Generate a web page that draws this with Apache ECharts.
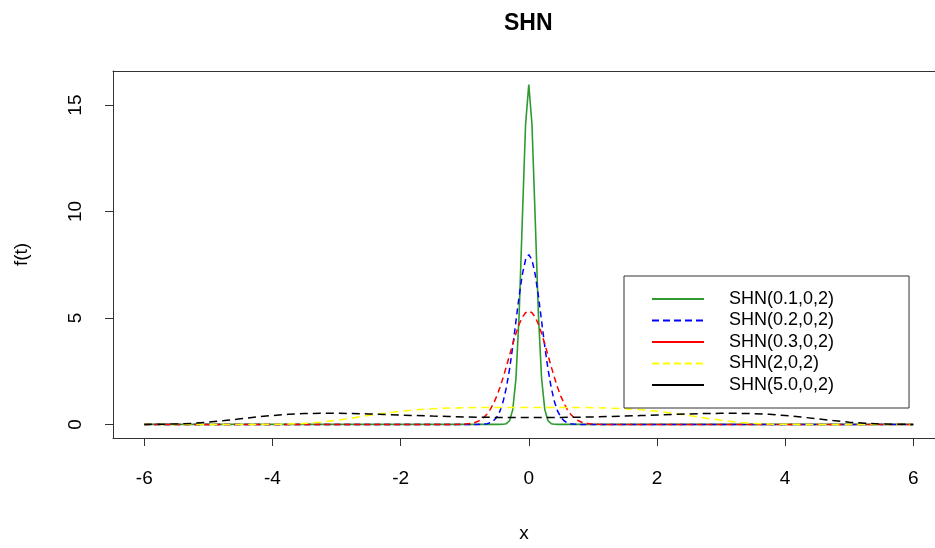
<!DOCTYPE html>
<html>
<head>
<meta charset="utf-8">
<script src="https://cdn.jsdelivr.net/npm/echarts@6/dist/echarts.min.js"></script>
<style>html,body{margin:0;padding:0;background:#fff;}#c{width:935px;height:548px;}</style>
</head>
<body>
<div id="c"></div>
<script>
// ---- data ----
var seriesNames = ['SHN(0.1,0,2)', 'SHN(0.2,0,2)', 'SHN(0.3,0,2)', 'SHN(2,0,2)', 'SHN(5.0,0,2)'];
var xTicks = [-6, -4, -2, 0, 2, 4, 6];
var yTicks = [0, 5, 10, 15];

var greenX = [-6, -0.5, -0.45, -0.4, -0.35, -0.3, -0.25, -0.2, -0.15, -0.1, -0.05, 0, 0.05, 0.1, 0.15, 0.2, 0.25, 0.3, 0.35, 0.4, 0.45, 0.5, 6];
var greenY = [0, 0, 0.0005, 0.0049, 0.0333, 0.1733, 0.695, 2.156, 5.184, 9.687, 14.087, 15.958, 14.087, 9.687, 5.184, 2.156, 0.695, 0.1733, 0.0333, 0.0049, 0.0005, 0, 0];

var blueX = [-6, -0.9, -0.85, -0.8, -0.75, -0.7, -0.65, -0.6, -0.55, -0.5, -0.45, -0.4, -0.35, -0.3, -0.25, -0.2, -0.15, -0.1, -0.05, 0,
             0.05, 0.1, 0.15, 0.2, 0.25, 0.3, 0.35, 0.4, 0.45, 0.5, 0.55, 0.6, 0.65, 0.7, 0.75, 0.8, 0.85, 0.9, 6];
var blueY = [0, 0.0002, 0.0006, 0.0018, 0.0053, 0.0144, 0.0354, 0.0809, 0.1715, 0.3386, 0.6235, 1.072, 1.725, 2.598, 3.667, 4.856, 6.037, 7.049, 7.736, 7.979,
             7.736, 7.049, 6.037, 4.856, 3.667, 2.598, 1.725, 1.072, 0.6235, 0.3386, 0.1715, 0.0809, 0.0354, 0.0144, 0.0053, 0.0018, 0.0006, 0.0002, 0];

var redX = [-6, -1.3, -1.25, -1.2, -1.15, -1.1, -1.05, -1.0, -0.95, -0.9, -0.85, -0.8, -0.75, -0.7, -0.65, -0.6, -0.55, -0.5, -0.45, -0.4, -0.35, -0.3, -0.25, -0.2, -0.15, -0.1, -0.05, 0,
            0.05, 0.1, 0.15, 0.2, 0.25, 0.3, 0.35, 0.4, 0.45, 0.5, 0.55, 0.6, 0.65, 0.7, 0.75, 0.8, 0.85, 0.9, 0.95, 1.0, 1.05, 1.1, 1.15, 1.2, 1.25, 1.3, 6];
var redY = [0, 0.0001, 0.0003, 0.0008, 0.0017, 0.0037, 0.0074, 0.0144, 0.0267, 0.0477, 0.0819, 0.1353, 0.2155, 0.3316, 0.4926, 0.7081, 0.9855, 1.329, 1.737, 2.204, 2.716, 3.250, 3.781, 4.277, 4.706, 5.038, 5.247, 5.319,
            5.247, 5.038, 4.706, 4.277, 3.781, 3.250, 2.716, 2.204, 1.737, 1.329, 0.9855, 0.7081, 0.4926, 0.3316, 0.2155, 0.1353, 0.0819, 0.0477, 0.0267, 0.0144, 0.0074, 0.0037, 0.0017, 0.0008, 0.0003, 0.0001, 0];

var wideX = [-6, -5.75, -5.5, -5.25, -5, -4.75, -4.5, -4.25, -4, -3.75, -3.5, -3.25, -3, -2.75, -2.5, -2.25, -2, -1.75, -1.5, -1.25, -1, -0.75, -0.5, -0.25, 0,
             0.25, 0.5, 0.75, 1, 1.25, 1.5, 1.75, 2, 2.25, 2.5, 2.75, 3, 3.25, 3.5, 3.75, 4, 4.25, 4.5, 4.75, 5, 5.25, 5.5, 5.75, 6];
var yellowY = [0, 0, 0, 0, 0, 0, 0.0001, 0.0007, 0.0042, 0.0168, 0.0482, 0.1070, 0.1945, 0.3026, 0.4177, 0.5258, 0.6172, 0.6875, 0.7367, 0.7679, 0.7855, 0.7939, 0.7971, 0.7978, 0.7979,
               0.7978, 0.7971, 0.7939, 0.7855, 0.7679, 0.7367, 0.6875, 0.6172, 0.5258, 0.4177, 0.3026, 0.1945, 0.1070, 0.0482, 0.0168, 0.0042, 0.0007, 0.0001, 0, 0, 0, 0, 0, 0];
var blackY = [0.0010, 0.0055, 0.0196, 0.0510, 0.1046, 0.1785, 0.2632, 0.3470, 0.4192, 0.4734, 0.5074, 0.5227, 0.5224, 0.5105, 0.4908, 0.4668, 0.4410, 0.4154, 0.3914, 0.3702, 0.3521, 0.3378, 0.3275, 0.3212, 0.3192,
              0.3212, 0.3275, 0.3378, 0.3521, 0.3702, 0.3914, 0.4154, 0.4410, 0.4668, 0.4908, 0.5105, 0.5224, 0.5227, 0.5074, 0.4734, 0.4192, 0.3470, 0.2632, 0.1785, 0.1046, 0.0510, 0.0196, 0.0055, 0.0010];

function pairs(xs, ys) { var out = []; for (var i = 0; i < xs.length; i++) out.push([xs[i], ys[i]]); return out; }

var FONT = '"Liberation Sans", Arial, sans-serif';
var chart = echarts.init(document.getElementById('c'), null, { renderer: 'canvas' });

function lineSeries(name, data, color, type, width) {
  return {
    name: name, type: 'line', data: data, symbol: 'none', smooth: false,
    lineStyle: { color: color, width: width, type: type },
    itemStyle: { color: color },
    animation: false, z: 3
  };
}

var noSym = { opacity: 0 };

chart.setOption({
  animation: false,
  backgroundColor: '#fff',
  title: {
    text: 'SHN', left: 499, top: 7,
    textStyle: { fontFamily: FONT, fontSize: 23, fontWeight: 'bold', color: '#000' }
  },
  grid: { left: 113, right: 0, top: 71, bottom: 108, show: false, containLabel: false },
  xAxis: [{
    type: 'value', min: -6.488, max: 6.339, position: 'bottom',
    name: 'x', nameLocation: 'middle', nameGap: 86,
    nameTextStyle: { fontFamily: FONT, fontSize: 19, color: '#000' },
    axisLine: { show: true, onZero: false, lineStyle: { color: '#333', width: 1 } },
    axisTick: { show: true, inside: false, length: 8, lineStyle: { color: '#333' }, customValues: xTicks },
    axisLabel: { fontFamily: FONT, fontSize: 19, color: '#000', margin: 31, customValues: xTicks, formatter: function (v) { return String(v); } },
    splitLine: { show: false }
  }, {
    type: 'value', min: -6.488, max: 6.339, position: 'top',
    axisLine: { show: true, onZero: false, lineStyle: { color: '#333', width: 1 } },
    axisTick: { show: false }, axisLabel: { show: false }, splitLine: { show: false }
  }],
  yAxis: {
    type: 'value', min: -0.638, max: 16.6,
    name: 'f(t)', nameLocation: 'middle', nameGap: 82, nameRotate: 90,
    nameTextStyle: { fontFamily: FONT, fontSize: 19, color: '#000' },
    axisLine: { show: true, onZero: false, lineStyle: { color: '#333', width: 1 } },
    axisTick: { show: true, inside: false, length: 8, lineStyle: { color: '#333' }, customValues: yTicks },
    axisLabel: { fontFamily: FONT, fontSize: 19, color: '#000', margin: 28, rotate: 90, customValues: yTicks, formatter: function (v) { return String(v); } },
    splitLine: { show: false }
  },
  legend: {
    orient: 'vertical', left: 624, top: 276,
    padding: [14, 75, 14, 27],
    itemWidth: 52, itemHeight: 14, itemGap: 3.5,
    borderColor: '#333', borderWidth: 1, backgroundColor: '#fff',
    textStyle: { fontFamily: FONT, fontSize: 18, color: '#000', padding: [0, 0, 0, 20] },
    data: [
      { name: seriesNames[0], lineStyle: { type: 'solid' }, itemStyle: noSym },
      { name: seriesNames[1], lineStyle: { type: [7, 4] }, itemStyle: noSym },
      { name: seriesNames[2], lineStyle: { type: 'solid' }, itemStyle: noSym },
      { name: seriesNames[3], lineStyle: { type: [7, 4] }, itemStyle: noSym },
      { name: seriesNames[4], lineStyle: { type: 'solid' }, itemStyle: noSym }
    ]
  },
  series: [
    lineSeries(seriesNames[0], pairs(greenX, greenY), '#2f9a2f', 'solid', 1.6),
    lineSeries(seriesNames[1], pairs(blueX, blueY), '#0000ff', [6, 4], 1.5),
    lineSeries(seriesNames[2], pairs(redX, redY), '#ff0000', [6, 4], 1.5),
    lineSeries(seriesNames[3], pairs(wideX, yellowY), '#ffff00', [8, 5], 1.5),
    lineSeries(seriesNames[4], pairs(wideX, blackY), '#000000', [8, 5], 1.5)
  ]
});
</script>
</body>
</html>
